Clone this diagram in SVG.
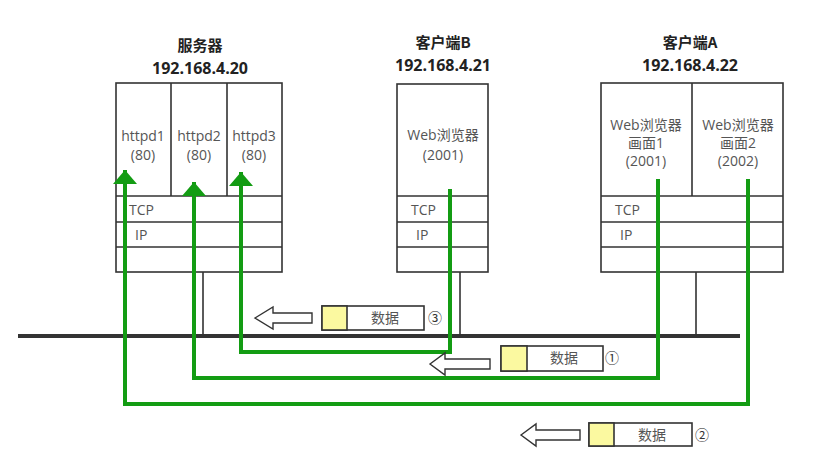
<svg xmlns="http://www.w3.org/2000/svg" width="816" height="463" viewBox="0 0 816 463">
<defs>
<style>
.box{fill:#fff;stroke:#333;stroke-width:1.6}
.ln{stroke:#333;stroke-width:1.6;fill:none}
.t{font-family:"Open Sans","Noto Sans CJK SC",sans-serif;font-size:14px;fill:#555;text-anchor:middle}
.tl{font-family:"Open Sans","Noto Sans CJK SC",sans-serif;font-size:14px;fill:#555}
.h{font-family:"Noto Sans CJK SC","Noto Sans",sans-serif;font-size:15px;font-weight:bold;fill:#222;text-anchor:middle}
.ip{font-family:"Open Sans",sans-serif;font-size:16px;font-weight:bold;fill:#222;text-anchor:middle}
.g{stroke:#139c13;stroke-width:4;fill:none}
.pk{fill:#fff;stroke:#333;stroke-width:1.6}
.y{fill:#fbf9a0;stroke:#333;stroke-width:1.6}
.ar{fill:#fff;stroke:#333;stroke-width:1.4}
.num{font-family:"Noto Sans CJK SC",sans-serif;font-size:14px;fill:#333;text-anchor:middle}
</style>
<marker id="ah" viewBox="0 0 14 24" refX="14" refY="12" markerWidth="14" markerHeight="24" markerUnits="userSpaceOnUse" orient="auto"><path d="M0,0 L14,12 L0,24 Z" fill="#139c13"/></marker>
</defs>

<line x1="18" y1="336" x2="740" y2="336" stroke="#333" stroke-width="4"/>

<g id="server">
<text class="h" x="200" y="51">服务器</text>
<text class="ip" x="200" y="74">192.168.4.20</text>
<rect class="box" x="116" y="83" width="166" height="189"/>
<path class="ln" d="M171,83 V196 M227,83 V196 M116,196 H282 M116,222 H282 M116,247 H282 M203,272 V336"/>
<text class="t" x="143" y="141">httpd1</text><text class="t" x="143" y="160">(80)</text>
<text class="t" x="199" y="141">httpd2</text><text class="t" x="199" y="160">(80)</text>
<text class="t" x="254" y="141">httpd3</text><text class="t" x="254" y="160">(80)</text>
<text class="tl" x="129" y="215">TCP</text>
<text class="tl" x="135" y="240">IP</text>
</g>

<g id="clientB">
<text class="h" x="443" y="48">客户端B</text>
<text class="ip" x="443" y="71">192.168.4.21</text>
<rect class="box" x="397" y="84" width="91" height="188"/>
<path class="ln" d="M397,196 H488 M397,222 H488 M397,247 H488 M460,272 V336"/>
<text class="t" x="443" y="140">Web浏览器</text><text class="t" x="443" y="160">(2001)</text>
<text class="tl" x="411" y="215">TCP</text>
<text class="tl" x="416" y="240">IP</text>
</g>

<g id="clientA">
<text class="h" x="690" y="48">客户端A</text>
<text class="ip" x="690" y="71">192.168.4.22</text>
<rect class="box" x="601" y="83" width="182" height="189"/>
<path class="ln" d="M692,83 V196 M601,196 H783 M601,222 H783 M601,247 H783 M696,272 V336"/>
<text class="t" x="646" y="130">Web浏览器</text><text class="t" x="646" y="148">画面1</text><text class="t" x="646" y="166">(2001)</text>
<text class="t" x="738" y="130">Web浏览器</text><text class="t" x="738" y="148">画面2</text><text class="t" x="738" y="166">(2002)</text>
<text class="tl" x="615" y="215">TCP</text>
<text class="tl" x="620" y="240">IP</text>
</g>

<g id="connectors">
<path class="g" d="M450,189 V352 H241 V172" marker-end="url(#ah)"/>
<path class="g" d="M658,179 V378 H194 V182" marker-end="url(#ah)"/>
<path class="g" d="M748,179 V404 H125 V170" marker-end="url(#ah)"/>
</g>

<g id="packet3">
<path class="ar" d="M255,318 L273,307 V313 H312 V323 H273 V329 Z"/>
<rect class="pk" x="322" y="306" width="102" height="24"/>
<rect class="y" x="322" y="306" width="25" height="24"/>
<text class="t" x="385" y="323">数据</text>
<text class="num" x="435" y="323">③</text>
</g>

<g id="packet1">
<path class="ar" d="M430,364 L445,353 V359 H490 V369 H445 V375 Z"/>
<rect class="pk" x="501" y="346" width="102" height="25"/>
<rect class="y" x="501" y="346" width="26" height="25"/>
<text class="t" x="564" y="363">数据</text>
<text class="num" x="612" y="363">①</text>
</g>

<g id="packet2">
<path class="ar" d="M521,435 L536,424 V430 H580 V440 H536 V446 Z"/>
<rect class="pk" x="589" y="423" width="103" height="23"/>
<rect class="y" x="589" y="423" width="25" height="23"/>
<text class="t" x="652" y="440">数据</text>
<text class="num" x="702" y="440">②</text>
</g>
</svg>
